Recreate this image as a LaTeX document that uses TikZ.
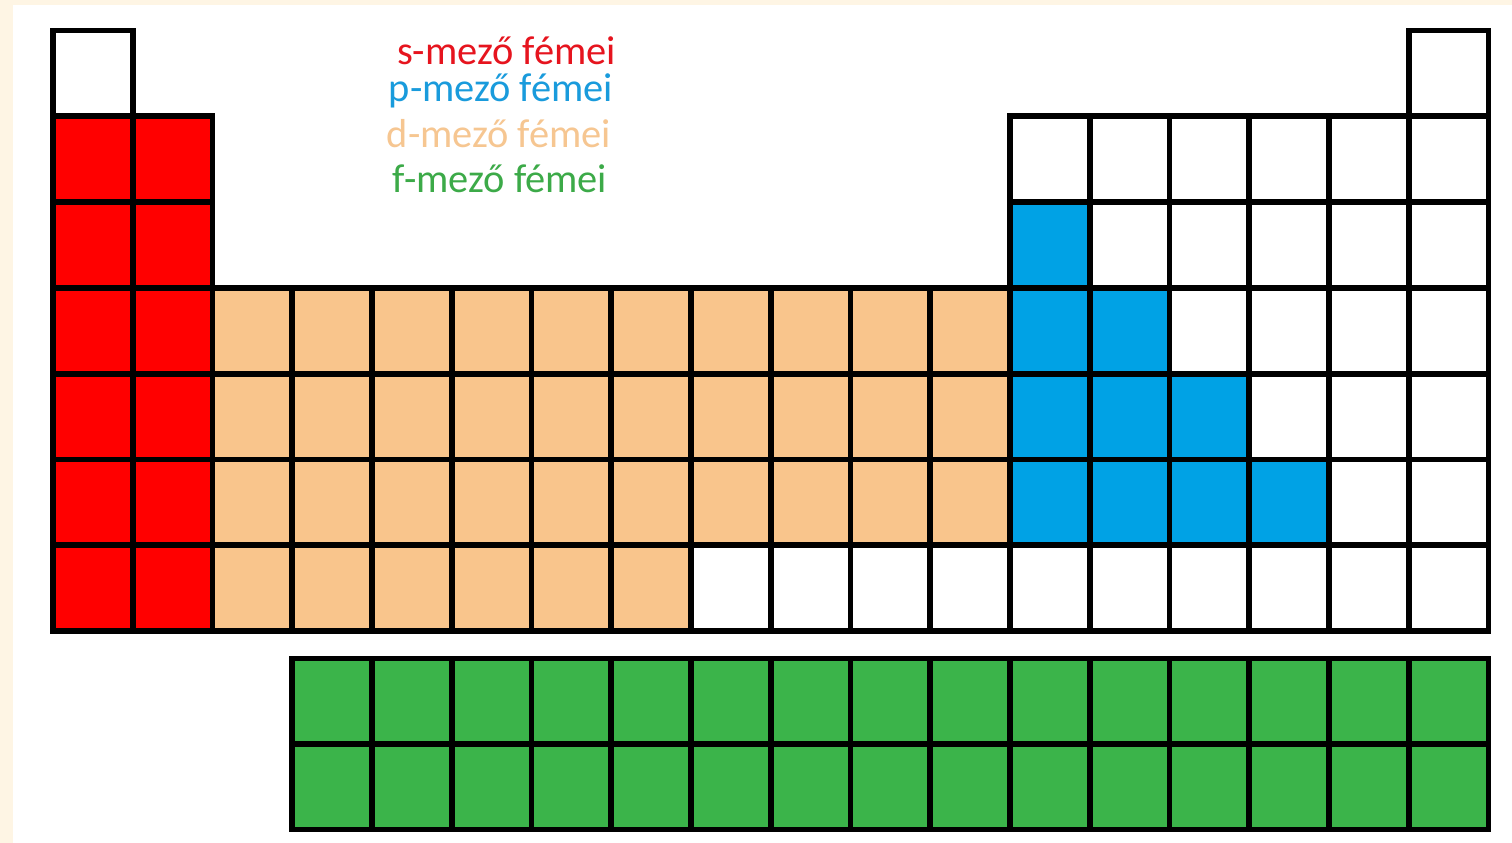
\documentclass[tikz,border=0pt]{standalone}
\usepackage{fontspec}
\setmainfont{Carlito}
\usetikzlibrary{positioning}
\definecolor{sfill}{RGB}{255, 0, 0}
\definecolor{pfill}{RGB}{0, 162, 229}
\definecolor{dfill}{RGB}{249, 197, 140}
\definecolor{ffill}{RGB}{59, 180, 74}
\definecolor{stext}{RGB}{230, 20, 30}
\definecolor{ptext}{RGB}{25, 155, 220}
\definecolor{dtext}{RGB}{246, 198, 145}
\definecolor{ftext}{RGB}{60, 170, 72}
\definecolor{cream}{RGB}{254, 245, 228}

\begin{document}
\begin{tikzpicture}[
  cell/.style={draw=black, line width=1.6pt, inner sep=0pt,
               minimum width=7.975mm, minimum height=8.58mm},
  fcell/.style={cell, minimum height=8.55mm, fill=ffill},
  legend/.style={anchor=base, font=\fontsize{11.5}{13}\selectfont}
]
  % page and margins
  \fill[cream] (0,0) rectangle (15.12,8.43);
  \fill[white] (0.13,0) rectangle (15.12,8.38);
  \useasboundingbox (0,0) rectangle (15.12,8.43);

  % main table: row r, column c
  \foreach \r/\c/\col in {1/1/white, 1/18/white}
    \node[cell, fill=\col] (c\r-\c) at ({0.53+(\c-0.5)*0.7975}, {8.125-(\r-0.5)*0.858}) {};
  \foreach \r in {2,...,7}
    \foreach \c in {1,2}
      \node[cell, fill=sfill] (c\r-\c) at ({0.53+(\c-0.5)*0.7975}, {8.125-(\r-0.5)*0.858}) {};
  \foreach \r in {4,5,6}
    \foreach \c in {3,...,12}
      \node[cell, fill=dfill] (c\r-\c) at ({0.53+(\c-0.5)*0.7975}, {8.125-(\r-0.5)*0.858}) {};
  \foreach \c in {3,...,8}
    \node[cell, fill=dfill] (c7-\c) at ({0.53+(\c-0.5)*0.7975}, {8.125-6.5*0.858}) {};
  \foreach \c in {9,...,18}
    \node[cell, fill=white] (c7-\c) at ({0.53+(\c-0.5)*0.7975}, {8.125-6.5*0.858}) {};
  % p-block: blue staircase, the rest white
  \foreach \r in {2,...,6}
    \foreach \c in {13,...,18} {
      \pgfmathtruncatemacro\isp{(\r>2) && (\c<\r+11)}
      \ifnum\isp=1
        \node[cell, fill=pfill] (c\r-\c) at ({0.53+(\c-0.5)*0.7975}, {8.125-(\r-0.5)*0.858}) {};
      \else
        \node[cell, fill=white] (c\r-\c) at ({0.53+(\c-0.5)*0.7975}, {8.125-(\r-0.5)*0.858}) {};
      \fi
    }

  % f-block
  \foreach \r in {1,2}
    \foreach \c in {4,...,18}
      \node[fcell] (f\r-\c) at ({0.53+(\c-0.5)*0.7975}, {1.845-(\r-0.5)*0.855}) {};

  % legend
  \node[legend, text=stext] (sleg) at (5.065, 7.78) {s-mező fémei};
  \node[legend, text=ptext] (pleg) at (5.01, 7.41) {p-mező fémei};
  \node[legend, text=dtext] (dleg) at (4.99, 6.95) {d-mező fémei};
  \node[legend, text=ftext] (fleg) at (5.00, 6.50) {f-mező fémei};
\end{tikzpicture}
\end{document}
